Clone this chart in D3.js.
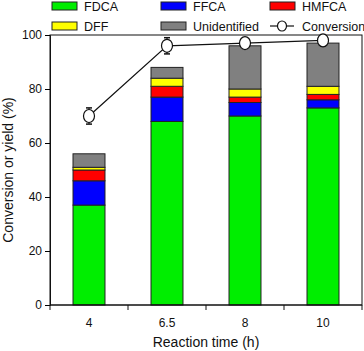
<!DOCTYPE html>
<html>
<head>
<meta charset="utf-8">
<script src="https://cdn.jsdelivr.net/npm/d3@7"></script>
<style>
  body { margin: 0; background: #fff; }
  text { font-family: "Liberation Sans", Arial, sans-serif; fill: #111; }
</style>
</head>
<body>
<div id="chart"></div>
<script>
// data
const times = ["4", "6.5", "8", "10"];
const fdca = [37, 68, 70, 73];
const ffca = [9, 9, 5, 3];
const hmfca = [4, 4, 2, 2];
const dff = [1, 3, 3, 3];
const unidentified = [5, 4, 16, 16];
const conversion = [70, 96, 97, 98];
const conversionErr = [3, 3, 1.5, 2];
const yTicks = [0, 20, 40, 60, 80, 100];

const seriesKeys = ["FDCA", "FFCA", "HMFCA", "DFF", "Unidentified"];
const seriesColors = {
    FDCA: "#00ee00",
    FFCA: "#0000ff",
    HMFCA: "#ff0000",
    DFF: "#ffff00",
    Unidentified: "#808080"
};

const margin = { top: 35, right: 2, bottom: 46, left: 50 };
const W = 364, H = 351;
const width = W - margin.left - margin.right;
const height = H - margin.top - margin.bottom;

const svg = d3.select("#chart").append("svg")
    .attr("width", W)
    .attr("height", H);

const g = svg.append("g")
    .attr("transform", `translate(${margin.left},${margin.top})`);

const rows = times.map((t, i) => ({
    time: t,
    FDCA: fdca[i],
    FFCA: ffca[i],
    HMFCA: hmfca[i],
    DFF: dff[i],
    Unidentified: unidentified[i]
}));

const x = d3.scaleBand().domain(times).range([0, width]).padding(0);
const y = d3.scaleLinear().domain([0, 100]).range([height, 0]);
const barW = x.bandwidth() * 0.41;

const stacked = d3.stack().keys(seriesKeys)(rows);

// bars
g.selectAll(".layer")
    .data(stacked)
    .enter()
    .append("g")
    .attr("class", "layer")
    .attr("fill", d => seriesColors[d.key])
    .selectAll("rect")
    .data(d => d)
    .enter()
    .append("rect")
    .attr("x", d => x(d.data.time) + x.bandwidth() / 2 - barW / 2)
    .attr("y", d => y(d[1]))
    .attr("width", barW)
    .attr("height", d => y(d[0]) - y(d[1]))
    .attr("stroke", "#222")
    .attr("stroke-width", 1);

// frame
g.append("rect")
    .attr("x", 0).attr("y", 0)
    .attr("width", width).attr("height", height)
    .attr("fill", "none")
    .attr("stroke", "#111")
    .attr("stroke-width", 1);

// y axis
const yAxis = g.append("g")
    .call(d3.axisLeft(y).tickValues(yTicks).tickSize(5).tickPadding(3));
yAxis.select(".domain").attr("stroke", "#111");
yAxis.selectAll("text").style("font-size", "12px").attr("fill", "#111");

// x axis: ticks at band edges, labels at centres
const edges = times.map(t => x(t)).concat([width]);
const xAxisG = g.append("g").attr("transform", `translate(0,${height})`);
xAxisG.append("line").attr("x1", 0).attr("x2", width).attr("stroke", "#111");
xAxisG.selectAll(".edge")
    .data(edges)
    .enter()
    .append("line")
    .attr("x1", d => d).attr("x2", d => d)
    .attr("y1", 0).attr("y2", 5)
    .attr("stroke", "#111");
xAxisG.selectAll(".lbl")
    .data(times)
    .enter()
    .append("text")
    .attr("x", d => x(d) + x.bandwidth() / 2)
    .attr("y", 22)
    .attr("text-anchor", "middle")
    .style("font-size", "12px")
    .text(d => d);

// conversion line
const cx = i => x(times[i]) + x.bandwidth() / 2;
const line = d3.line().x((d, i) => cx(i)).y(d => y(d));
g.append("path")
    .datum(conversion)
    .attr("d", line)
    .attr("fill", "none")
    .attr("stroke", "#111")
    .attr("stroke-width", 1.2);

// error bars
const eb = g.selectAll(".err").data(conversion).enter().append("g");
eb.append("line")
    .attr("x1", (d, i) => cx(i)).attr("x2", (d, i) => cx(i))
    .attr("y1", (d, i) => y(d + conversionErr[i]))
    .attr("y2", (d, i) => y(d - conversionErr[i]))
    .attr("stroke", "#111");
[1, -1].forEach(s => {
    eb.append("line")
        .attr("x1", (d, i) => cx(i) - 3).attr("x2", (d, i) => cx(i) + 3)
        .attr("y1", (d, i) => y(d + s * conversionErr[i]))
        .attr("y2", (d, i) => y(d + s * conversionErr[i]))
        .attr("stroke", "#111")
        .attr("stroke-width", 1.5);
});

// markers
g.selectAll(".pt")
    .data(conversion)
    .enter()
    .append("ellipse")
    .attr("cx", (d, i) => cx(i))
    .attr("cy", d => y(d))
    .attr("rx", 5.5)
    .attr("ry", 6.5)
    .attr("fill", "#fff")
    .attr("stroke", "#111")
    .attr("stroke-width", 1.2);

// axis titles
svg.append("text")
    .attr("transform", `translate(13,${margin.top + height / 2}) rotate(-90)`)
    .attr("text-anchor", "middle")
    .style("font-size", "14px")
    .text("Conversion or yield (%)");

svg.append("text")
    .attr("x", margin.left + width / 2)
    .attr("y", 347)
    .attr("text-anchor", "middle")
    .style("font-size", "14px")
    .text("Reaction time (h)");

// legend
const legendItems = [
    { key: "FDCA", x: 52, y: 6 },
    { key: "FFCA", x: 161, y: 6 },
    { key: "HMFCA", x: 270, y: 6 },
    { key: "DFF", x: 52, y: 26 },
    { key: "Unidentified", x: 161, y: 26 }
];
const lg = svg.append("g");
legendItems.forEach(it => {
    lg.append("rect")
        .attr("x", it.x).attr("y", it.y - 4)
        .attr("width", 25).attr("height", 8)
        .attr("fill", seriesColors[it.key])
        .attr("stroke", "#222");
    lg.append("text")
        .attr("x", it.x + 32).attr("y", it.y + 4.5)
        .style("font-size", "12.5px")
        .text(it.key);
});
lg.append("line")
    .attr("x1", 270).attr("x2", 294)
    .attr("y1", 26).attr("y2", 26)
    .attr("stroke", "#111").attr("stroke-width", 1.2);
lg.append("ellipse")
    .attr("cx", 282).attr("cy", 26)
    .attr("rx", 4.5).attr("ry", 5)
    .attr("fill", "#fff").attr("stroke", "#111").attr("stroke-width", 1.2);
lg.append("text")
    .attr("x", 302).attr("y", 30.5)
    .style("font-size", "12.5px")
    .text("Conversion");
</script>
</body>
</html>
